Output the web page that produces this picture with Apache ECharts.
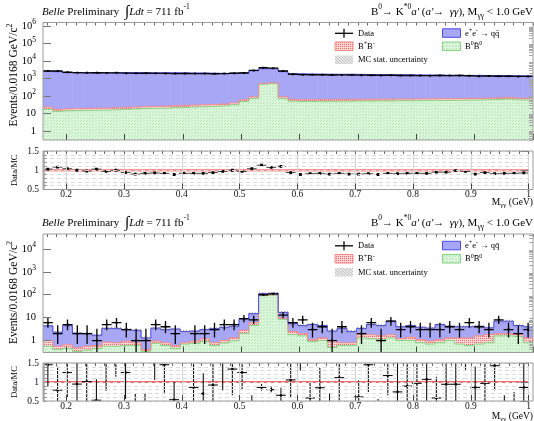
<!DOCTYPE html>
<html>
<head>
<meta charset="utf-8">
<title>B0 → K*0 a' (a' → γγ) candidates</title>
<script src="https://cdn.jsdelivr.net/npm/echarts@6/dist/echarts.min.js"></script>
<style>
  html, body { margin: 0; padding: 0; background: #fff; }
  #chart { width: 534px; height: 421px; }
</style>
</head>
<body>
<div id="chart"></div>
<script>
// ---- binning of M_γγ (GeV) ----
const massLow = 0.16;
const massHigh = 1.0;
const binWidth = 0.0168;
const nBins = 50;

// ---- upper pair: all candidates ----
const dataAll = [2700,2650,2250,2150,2100,2120,2080,2100,2020,1960,1980,1960,1950,1900,1920,1900,1900,1880,1900,2000,
                 2050,2900,4100,3900,2700,1750,1650,1640,1630,1580,1600,1570,1550,1540,1500,1520,1490,1490,1460,1450,
                 1480,1460,1490,1440,1360,1390,1340,1340,1310,1310];
const qqAll = [2598,2437,2145,2132,2124,2039,2124,2079,2127,2155,2128,2083,2094,2108,2059,2035,2034,1968,1925,1960,
               2053,2700,3083,3103,2367,1799,1793,1741,1710,1694,1676,1681,1658,1628,1620,1587,1571,1554,1520,1508,
               1489,1468,1435,1414,1439,1405,1397,1376,1350,1337];
const chargedAll = [6,4,4,4,4,4.5,4.5,5,5,5,5,5.5,6,6,6,6.5,7,7,7.5,9,
                    12,16,25,25,18,13,13,13,13,13,13,13,13,13,13,13,13,13,13,14,
                    14,14,14,14,14,14,14,15,14,14];
const neutralAll = [17,13,14,14.5,15,15,15.5,16,17,18,19,19.5,20,21,22,23.5,24,25,26.5,31,
                    48,72,480,520,70,50,48,48,49,49,50,50,51,51,52,52,53,53,54,54,
                    55,55,56,57,58,60,62,66,60,58];
const ratioAll = [1.03,1.08,1.04,1.00,0.98,1.03,0.97,1.00,0.94,0.90,0.92,0.93,0.92,0.89,0.92,0.92,0.92,0.94,0.97,1.00,
                  0.97,1.04,1.13,1.075,1.10,0.94,0.89,0.91,0.92,0.90,0.92,0.90,0.90,0.91,0.89,0.92,0.91,0.92,0.92,0.92,
                  0.95,0.95,0.99,0.97,0.90,0.94,0.91,0.92,0.92,0.93];
const mcStatRelAll = 0.02;

// ---- lower pair: selected candidates ----
const dataSel = [6,2,5,2,2,1,5,6,3,1,1,5,4,2,0,2,2,3,5,5,
                 9,8,100,110,13,6,8,3,4,1,4,0,2,6,1,7,3,4,3,3,
                 3,4,3,6,4,3,8,3,2,3];
const qqSel = [3.4,1.74,3.85,1.62,1.44,1.1,2.55,2.6,2.07,2.0,0.9,2.55,2.2,2.6,1.7,1.65,1.8,2.5,2.8,2.9,
               5.7,9.0,16,15,7.3,3.0,2.5,3.9,3.2,1.6,2.6,1.7,1.6,3.2,2.9,5.2,2.8,3.1,2.7,2.55,
               3.9,2.9,2.7,2.7,2.6,1.8,5.0,5.0,2.7,2.7];
const chargedSel = [0.44,0.16,0.20,0.15,0.18,0.15,0.29,0.24,0.33,0.20,0.07,0.20,0.20,0.15,0.10,0.20,0.30,0.20,0.22,0.33,
                    0.8,1.5,6,5,1.5,0.7,0.4,0.2,0.3,0.5,0.2,0.2,0.5,0.6,0.5,0.5,0.2,0.4,0.3,0.25,
                    0.3,0.3,0.6,0.7,0.9,1.0,0.4,0.4,0.3,0.5];
const neutralSel = [0.56,0.40,0.45,0.33,0.38,0.45,0.56,0.56,0.60,0.60,0.33,0.75,0.60,0.45,0.70,0.75,0.90,0.60,0.78,0.97,
                    2.0,4.5,90,95,8.2,1.8,1.6,0.9,1.0,0.5,0.6,0.6,1.3,1.2,1.1,1.3,1.0,1.0,0.8,0.7,
                    0.8,1.0,0.7,0.6,0.7,0.8,1.6,1.6,1.5,0.8];
const ratioSel = [1.455,0.785,1.25,0.945,1.01,0.52,1.9,2.0,1.25,0.35,0.35,1.9,1.455,0.535,null,0.857,0.696,0.92,1.8,1.34,
                  1.25,0.3,0.857,0.80,0.65,1.055,1.8,0.58,0.85,0.3,1.115,null,0.607,1.455,0.3,1.17,0.74,0.89,0.965,1.07,
                  0.58,0.94,0.94,1.7,0.857,0.965,1.43,0.3,0.3,0.857];
const ratioSelLow = [0.88,0.2,0.6,0.3,0.35,0,0.77,1.14,0.55,0,0,1.05,0.72,0.1,null,0.2,0.15,0.35,0.78,0.65,
                     0.8,0.1,0.77,0.73,0.48,0.6,1.3,0.3,0.4,0,0.52,null,0.2,0.74,0,0.65,0.35,0.45,0.4,0.45,
                     0.25,0.45,0.4,1.32,0.4,0.35,0.78,0.1,0.1,0.35];
const ratioSelHigh = [2.2,1.41,2.0,2.2,2.3,1.07,3.5,3.2,2.2,0.7,0.7,3.2,2.4,1.0,null,1.6,1.23,1.8,3.0,2.3,
                      1.8,0.65,0.95,0.88,0.85,1.6,2.6,1.0,1.37,0.7,1.9,null,1.04,2.2,0.55,1.8,1.55,1.6,1.8,2.0,
                      1.14,1.7,1.9,2.5,1.41,1.8,2.4,0.65,0.74,1.6];
const mcStatRelSel = 0.15;

// ---- axis ticks and labels ----
const massTicks = [0.2,0.3,0.4,0.5,0.6,0.7,0.8,0.9,1.0];
const countTicksAll = [1,10,100,1000,10000,100000,1000000];
const countTicksSel = [1,10,100,1000,10000];
const ratioTicks = [0.5,1,1.5];
const countRangeAll = [0.3, 1.6e6];
const countRangeSel = [0.3, 4.5e4];

// 68.3% central Poisson intervals for small counts
const poissonLow  = [0,0.173,0.708,1.367,2.086,2.840,3.620,4.419,5.232,6.057,6.891];
const poissonHigh = [1.841,3.300,4.638,5.918,7.163,8.382,9.584,10.77,11.95,13.11,14.27];
function poissonInterval(n) {
  if (n <= 10) return [poissonLow[n], poissonHigh[n]];
  const s = Math.sqrt(n);
  return [n - s, n + s + 1];
}

const SERIF = '"Liberation Serif", "DejaVu Serif", serif';
const binEdge = i => massLow + i * binWidth;
const binCenter = i => massLow + (i + 0.5) * binWidth;
const addArr = (a, b) => a.map((v, i) => v + b[i]);

function richSet(base, sup, lh, slh) {
  return {
    b:   { fontSize: base, lineHeight: lh, fontFamily: SERIF, color: '#000' },
    it:  { fontSize: base, lineHeight: lh, fontFamily: SERIF, fontStyle: 'italic', color: '#000' },
    int: { fontSize: base * 1.45, lineHeight: lh, fontFamily: SERIF, color: '#000' },
    sup: { fontSize: sup, lineHeight: slh, fontFamily: SERIF, verticalAlign: 'top', color: '#000' },
    sub: { fontSize: sup, lineHeight: slh, fontFamily: SERIF, verticalAlign: 'bottom', color: '#000' }
  };
}

function pattern(bg, fg, size, dots) {
  const c = document.createElement('canvas');
  c.width = c.height = size;
  const ctx = c.getContext('2d');
  if (bg) { ctx.fillStyle = bg; ctx.fillRect(0, 0, size, size); }
  ctx.fillStyle = fg;
  dots.forEach(d => ctx.fillRect(d[0], d[1], 1, 1));
  return { image: c, repeat: 'repeat' };
}

const fillNeutral = pattern('#dcf7dc', '#b3e3b3', 3, [[0, 0], [2, 1]]);
const fillCharged = pattern('#ffd4d4', '#f06a6a', 2, [[0, 0]]);
const fillQQ = '#a7a7f6';
const fillStat = pattern(null, 'rgba(110,110,110,0.55)', 3, [[0, 0], [1, 1], [2, 2]]);
const fillStatKey = pattern('#e8e8e8', '#c2c2c2', 3, [[0, 0], [1, 1], [2, 2]]);
const strokeNeutral = '#86d486';
const strokeCharged = '#f08a8a';
const strokeQQ = '#4a4ae8';

const grids = [
  { left: 43, top: 22.5, width: 490, height: 117.5 },
  { left: 43, top: 151, width: 490, height: 38.5 },
  { left: 43, top: 234, width: 490, height: 118.5 },
  { left: 43, top: 363, width: 490, height: 38 }
];

// ---- axes ----
const massMinorTicks = [];
for (let k = 10; k <= 60; k++) massMinorTicks.push(k / 60);

function massAxes(g, withLabels) {
  return [
    { type: 'value', gridIndex: g, min: massLow, max: massHigh, z: 10,
      axisLine: { show: false },
      axisTick: { show: true, inside: true, length: 6, customValues: massTicks, lineStyle: { color: '#444' } },
      axisLabel: { show: withLabels, customValues: massTicks, margin: 0, fontSize: 9.5, fontFamily: SERIF, color: '#111',
                   formatter: v => (Math.abs(v - 1) < 1e-9 ? '1' : v.toFixed(1)) },
      splitLine: { show: withLabels, lineStyle: { color: '#d6d6d6', width: 1 } } },
    { type: 'value', gridIndex: g, min: massLow, max: massHigh, z: 10,
      axisLine: { show: false }, axisLabel: { show: false }, splitLine: { show: false },
      axisTick: { show: true, inside: true, length: 3, customValues: massMinorTicks, lineStyle: { color: '#666' } } }
  ];
}

function countAxes(g, range, labels) {
  const minor = [];
  for (let e = -1; e <= 7; e++) {
    for (let m = 2; m <= 9; m++) {
      const v = m * Math.pow(10, e);
      if (v > range[0] && v < range[1]) minor.push(v);
    }
  }
  return [
    { type: 'log', gridIndex: g, min: range[0], max: range[1], z: 10,
      axisLine: { show: false }, splitLine: { show: false },
      axisTick: { show: true, inside: true, length: 8, customValues: labels, lineStyle: { color: '#777' } },
      axisLabel: { customValues: labels, margin: 7, rich: richSet(10.5, 7.5, 16, 8),
                   formatter: v => {
                     const e = Math.round(Math.log10(v));
                     if (e === 0) return '{b|1}';
                     if (e === 1) return '{b|10}';
                     return '{b|10}{sup|' + e + '}';
                   } } },
    { type: 'log', gridIndex: g, min: range[0], max: range[1], z: 10,
      axisLine: { show: false }, splitLine: { show: false }, axisLabel: { show: false },
      axisTick: { show: true, inside: true, length: 4, customValues: minor, lineStyle: { color: '#aaa' } } }
  ];
}

function ratioAxes(g) {
  return [
    { type: 'value', gridIndex: g, min: 0.5, max: 1.5, interval: 0.1, z: 10,
      axisLine: { show: false },
      axisTick: { show: true, inside: true, length: 4, lineStyle: { color: '#999' } },
      minorTick: { show: true, splitNumber: 4, length: 2, lineStyle: { color: '#bbb' } },
      axisLabel: { customValues: ratioTicks, margin: 4, fontSize: 9.5, fontFamily: SERIF, color: '#111',
                   formatter: v => (Math.abs(v - 1) < 1e-9 ? '1' : String(v)) },
      splitLine: { show: true, lineStyle: { color: '#dcdcdc', type: [4, 3], width: 1 } } },
    { type: 'value', gridIndex: g, min: 0.5, max: 1.5, z: 10,
      axisLine: { show: false }, splitLine: { show: false }, axisLabel: { show: false },
      axisTick: { show: true, inside: true, length: 8, customValues: ratioTicks, lineStyle: { color: '#777' } } }
  ];
}

// ---- series builders ----
function layerFill(g, lower, upper, yMin, fill, z) {
  return {
    type: 'custom', xAxisIndex: 2 * g, yAxisIndex: 2 * g, clip: true, z: z, silent: true,
    data: upper.map((v, i) => [binCenter(i), Math.max(v, yMin)]),
    renderItem: function (params, api) {
      const i = params.dataIndex;
      const lo = lower ? Math.max(lower[i], yMin) : yMin;
      const tl = api.coord([binEdge(i), upper[i]]);
      const br = api.coord([binEdge(i + 1), lo]);
      return { type: 'rect',
               shape: { x: tl[0], y: tl[1], width: br[0] - tl[0] + 0.5, height: br[1] - tl[1] },
               style: { fill: fill } };
    }
  };
}

function layerOutline(g, upper, yMin, stroke, z) {
  return {
    type: 'custom', xAxisIndex: 2 * g, yAxisIndex: 2 * g, clip: true, z: z, silent: true,
    data: upper.map((v, i) => [binCenter(i), Math.max(v, yMin)]),
    renderItem: function (params, api) {
      const i = params.dataIndex;
      const a = api.coord([binEdge(i), upper[i]]);
      const b = api.coord([binEdge(i + 1), upper[i]]);
      const pts = [a, b];
      if (i + 1 < upper.length) pts.push(api.coord([binEdge(i + 1), upper[i + 1]]));
      return { type: 'polyline', shape: { points: pts }, style: { stroke: stroke, lineWidth: 1, fill: null } };
    }
  };
}

function countPoints(g, counts, yMin, width, marker, z) {
  return {
    type: 'custom', xAxisIndex: 2 * g, yAxisIndex: 2 * g, clip: true, z: z, silent: true,
    data: counts.map((v, i) => [binCenter(i), Math.max(v, yMin)]),
    renderItem: function (params, api) {
      const i = params.dataIndex;
      const n = counts[i];
      if (!(n > 0)) return null;
      const band = poissonInterval(n);
      const xc = binCenter(i);
      const l = api.coord([binEdge(i), n]);
      const r = api.coord([binEdge(i + 1), n]);
      const lo = api.coord([xc, Math.max(band[0], yMin * 0.5)]);
      const hi = api.coord([xc, band[1]]);
      return { type: 'group', children: [
        { type: 'line', shape: { x1: l[0], y1: l[1], x2: r[0], y2: r[1] }, style: { stroke: '#000', lineWidth: width } },
        { type: 'line', shape: { x1: lo[0], y1: lo[1], x2: hi[0], y2: hi[1] }, style: { stroke: '#000', lineWidth: width } },
        { type: 'rect', shape: { x: hi[0] - marker / 2, y: l[1] - marker / 2, width: marker, height: marker }, style: { fill: '#000' } }
      ] };
    }
  };
}

function ratioPoints(g, values, lows, highs, barColor, width, marker, z) {
  return {
    type: 'custom', xAxisIndex: 2 * g, yAxisIndex: 2 * g, clip: true, z: z, silent: true,
    data: values.map((v, i) => [binCenter(i), v == null ? 1 : v]),
    renderItem: function (params, api) {
      const i = params.dataIndex;
      const v = values[i];
      if (v == null) return null;
      const xc = binCenter(i);
      const l = api.coord([binEdge(i), v]);
      const r = api.coord([binEdge(i + 1), v]);
      const lo = api.coord([xc, lows[i]]);
      const hi = api.coord([xc, highs[i]]);
      return { type: 'group', children: [
        { type: 'line', shape: { x1: l[0], y1: l[1], x2: r[0], y2: r[1] }, style: { stroke: barColor, lineWidth: width } },
        { type: 'line', shape: { x1: lo[0], y1: lo[1], x2: hi[0], y2: hi[1] }, style: { stroke: barColor, lineWidth: width } },
        { type: 'rect', shape: { x: hi[0] - marker / 2, y: l[1] - marker / 2, width: marker, height: marker }, style: { fill: '#000' } }
      ] };
    }
  };
}

function unityLine(g, color, width) {
  return { type: 'line', xAxisIndex: 2 * g, yAxisIndex: 2 * g, data: [[massLow, 1], [massHigh, 1]],
           symbol: 'none', silent: true, z: 3, lineStyle: { color: color, width: width } };
}

function stackSeries(g, neutral, charged, qq, range, statRel) {
  const yMin = range[0];
  const topNeutral = neutral;
  const topCharged = addArr(neutral, charged);
  const total = addArr(topCharged, qq);
  return [
    layerFill(g, null, topNeutral, yMin, fillNeutral, 2),
    layerFill(g, topNeutral, topCharged, yMin, fillCharged, 2),
    layerFill(g, topCharged, total, yMin, fillQQ, 2),
    layerOutline(g, topNeutral, yMin, strokeNeutral, 3),
    layerOutline(g, topCharged, yMin, strokeCharged, 3),
    layerOutline(g, total, yMin, strokeQQ, 3),
    layerFill(g, total.map(v => v * (1 - statRel)), total.map(v => v * (1 + statRel)), yMin, fillStat, 4)
  ];
}

const ratioAllLow = ratioAll.map((r, i) => r * (1 - 1 / Math.sqrt(dataAll[i])));
const ratioAllHigh = ratioAll.map((r, i) => r * (1 + 1 / Math.sqrt(dataAll[i])));

// ---- text decorations ----
const titleRich = richSet(11, 7.5, 17, 8);
const keyRich = richSet(8.5, 6, 12, 6);
const axisRich = richSet(11.5, 8, 17, 8);
const massRich = richSet(9.5, 7, 14, 7);

function txt(x, y, text, rich, align, rotation) {
  return { type: 'text', x: x, y: y, rotation: rotation || 0, z: 50, silent: true,
           style: { text: text, rich: rich, align: align || 'left', verticalAlign: 'middle', fontFamily: SERIF } };
}

function headerGraphics(y) {
  return [
    txt(42, y, '{it|Belle}{b| Preliminary  }{int|∫}{it|Ldt}{b| = 711 fb}{sup|-1}', titleRich, 'left'),
    txt(533, y, "{b|B}{sup|0}{b|→ K}{sup|*0}{it|a'}{b| (}{it|a'}{b|→  }{it|γγ}{b|), M}{sub|γγ}{b| < 1.0 GeV}", titleRich, 'right')
  ];
}

function keyGraphics(dy) {
  const g = [];
  g.push({ type: 'line', z: 50, silent: true, shape: { x1: 335, y1: 33.3 + dy, x2: 353, y2: 33.3 + dy }, style: { stroke: '#000', lineWidth: 1.3 } });
  g.push({ type: 'line', z: 50, silent: true, shape: { x1: 344, y1: 28.8 + dy, x2: 344, y2: 37.8 + dy }, style: { stroke: '#000', lineWidth: 1.3 } });
  g.push(txt(358, 33.3 + dy, '{b|Data}', keyRich));
  g.push({ type: 'rect', z: 50, silent: true, shape: { x: 335, y: 42 + dy, width: 18, height: 8.5 }, style: { fill: fillCharged, stroke: strokeCharged, lineWidth: 1 } });
  g.push(txt(358, 46.5 + dy, '{b|B}{sup|+}{b|B}{sup|-}', keyRich));
  g.push({ type: 'rect', z: 50, silent: true, shape: { x: 335, y: 55.5 + dy, width: 18, height: 8.5 }, style: { fill: fillStatKey } });
  g.push(txt(358, 60 + dy, '{b|MC stat. uncertainty}', keyRich));
  g.push({ type: 'rect', z: 50, silent: true, shape: { x: 442.5, y: 28.8 + dy, width: 18, height: 8.5 }, style: { fill: fillQQ, stroke: strokeQQ, lineWidth: 1 } });
  g.push(txt(465, 33.3 + dy, '{b|e}{sup|+}{b|e}{sup|-}{b| → qq̄}', keyRich));
  g.push({ type: 'rect', z: 50, silent: true, shape: { x: 442.5, y: 42 + dy, width: 18, height: 8.5 }, style: { fill: fillNeutral, stroke: strokeNeutral, lineWidth: 1 } });
  g.push(txt(465, 46.5 + dy, '{b|B}{sup|0}{b|B̄}{sup|0}', keyRich));
  return g;
}

const frames = grids.map(gr => ({ type: 'rect', z: 60, silent: true,
  shape: { x: gr.left, y: gr.top, width: gr.width, height: gr.height },
  style: { fill: 'none', stroke: '#9c9c9c', lineWidth: 1 } }));

const graphics = [].concat(
  headerGraphics(12),
  headerGraphics(223),
  keyGraphics(0),
  keyGraphics(212.5),
  [
    txt(14, 75, '{b|Events/0.0168 GeV/c}{sup|2}', axisRich, 'center', Math.PI / 2),
    txt(14, 292.5, '{b|Events/0.0168 GeV/c}{sup|2}', axisRich, 'center', Math.PI / 2),
    txt(15, 170.3, '{b|Data/MC}', richSet(8.5, 6, 12, 6), 'center', Math.PI / 2),
    txt(15, 382, '{b|Data/MC}', richSet(8.5, 6, 12, 6), 'center', Math.PI / 2),
    txt(533, 202, '{b|M}{sub|γγ}{b| (GeV)}', massRich, 'right'),
    txt(533, 416, '{b|M}{sub|γγ}{b| (GeV)}', massRich, 'right')
  ],
  frames
);

const option = {
  animation: false,
  backgroundColor: '#fff',
  textStyle: { fontFamily: SERIF },
  grid: grids.map(gr => Object.assign({ show: false }, gr)),
  xAxis: [].concat(massAxes(0, false), massAxes(1, true), massAxes(2, false), massAxes(3, true)),
  yAxis: [].concat(countAxes(0, countRangeAll, countTicksAll), ratioAxes(1),
                   countAxes(2, countRangeSel, countTicksSel), ratioAxes(3)),
  series: [].concat(
    stackSeries(0, neutralAll, chargedAll, qqAll, countRangeAll, mcStatRelAll),
    [countPoints(0, dataAll, countRangeAll[0], 1.4, 2, 8)],
    [unityLine(1, '#ff9494', 2.6), ratioPoints(1, ratioAll, ratioAllLow, ratioAllHigh, '#444', 1, 2.8, 8)],
    stackSeries(2, neutralSel, chargedSel, qqSel, countRangeSel, mcStatRelSel),
    [countPoints(2, dataSel, countRangeSel[0], 1.3, 2, 8)],
    [unityLine(3, '#f03c3c', 1.5), ratioPoints(3, ratioSel, ratioSelLow, ratioSelHigh, '#111', 1.1, 2.2, 8)]
  ),
  graphic: graphics
};

const chart = echarts.init(document.getElementById('chart'), null, { renderer: 'canvas' });
chart.setOption(option);
</script>
</body>
</html>
